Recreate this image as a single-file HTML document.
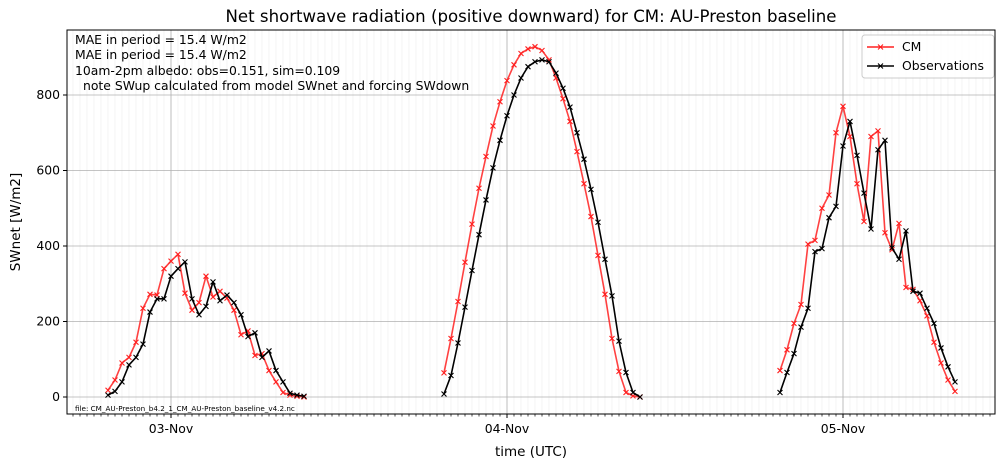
<!DOCTYPE html>
<html><head><meta charset="utf-8"><style>
html,body{margin:0;padding:0;background:#fff;}
svg{display:block;font-family:"DejaVu Sans","Liberation Sans",sans-serif;}
</style></head><body>
<svg id="chart" width="1005" height="468" xmlns="http://www.w3.org/2000/svg">
<text x="531" y="22" text-anchor="middle" font-size="16.6">Net shortwave radiation (positive downward) for CM: AU-Preston baseline</text>
<g id="grid"></g>
<g id="axes"></g>
<g id="series"></g>
<rect x="67" y="30" width="928" height="384" fill="none" stroke="#000" stroke-width="1"/>
<g font-size="12.4">
<text x="75" y="44">MAE in period = 15.4 W/m2</text>
<text x="75" y="59">MAE in period = 15.4 W/m2</text>
<text x="75" y="75">10am-2pm albedo: obs=0.151, sim=0.109</text>
<text x="83" y="90">note SWup calculated from model SWnet and forcing SWdown</text>
</g>
<text x="75" y="411" font-size="7.2">file: CM_AU-Preston_b4.2_1_CM_AU-Preston_baseline_v4.2.nc</text>
<g>
<rect x="862" y="35" width="132" height="43" rx="3" fill="#fff" fill-opacity="0.85" stroke="#ccc"/>
<line x1="867" y1="47" x2="894" y2="47" stroke="#ff2020" stroke-width="1.5"/>
<path d="M878,44.5L883,49.5M878,49.5L883,44.5" stroke="#ff2020" stroke-width="1.1"/>
<text x="902" y="51" font-size="12.4">CM</text>
<line x1="867" y1="66" x2="894" y2="66" stroke="#000" stroke-width="1.5"/>
<path d="M878,63.5L883,68.5M878,68.5L883,63.5" stroke="#000" stroke-width="1.1"/>
<text x="902" y="70" font-size="12.4">Observations</text>
</g>
<text x="531" y="456" text-anchor="middle" font-size="13.5">time (UTC)</text>
<text x="20" y="222" text-anchor="middle" font-size="13.5" transform="rotate(-90 20 222)">SWnet [W/m2]</text>
</svg>
<script>
// start slots (half-hours from 03-Nov 00:00 UTC) of each daytime segment
const segStarts = [-9, 39, 87];
const cmSeg1 = [18,45,90,105,145,235,272,270,340,360,378,275,230,250,320,265,280,262,230,165,175,110,115,70,40,12,5,2,0];
const obsSeg1 = [5,15,40,85,105,140,225,260,260,320,340,358,260,218,240,305,255,270,250,218,160,170,105,122,70,40,10,5,2];
const cmSeg2 = [64,155,253,357,458,553,637,718,782,838,880,910,922,928,918,893,845,790,730,650,565,478,375,272,155,68,12,3,0];
const obsSeg2 = [8,57,143,238,335,430,522,607,680,745,800,845,875,888,893,888,858,818,768,700,630,550,463,365,268,148,65,12,0];
const cmSeg3 = [70,125,195,245,405,415,500,535,700,770,690,565,465,690,705,435,390,460,290,285,255,215,145,90,45,15];
const obsSeg3 = [12,65,115,185,235,385,393,475,505,665,730,640,540,445,655,680,395,365,440,280,275,235,195,130,80,40];
const dayLabels = ["03-Nov","04-Nov","05-Nov"];
const yTicks = [0,200,400,600,800];

const NS="http://www.w3.org/2000/svg";
const L=67,R=995,T=30,B=414;
const xs = s => 171 + s*7;
const ys = v => 397 - v*302/800;
function mk(tag, attrs, parent){const e=document.createElementNS(NS,tag);for(const k in attrs)e.setAttribute(k,attrs[k]);parent.appendChild(e);return e;}
const grid=document.getElementById('grid'), axes=document.getElementById('axes'), ser=document.getElementById('series');
for(let s=-14;s<=117;s++){
  const x=xs(s);
  const g=mk('line',{x1:x,x2:x,y1:T,y2:B,stroke:'#ececec','stroke-width':0.6},grid);
  
  
  const t=mk('line',{x1:x,x2:x,y1:B,y2:B+2.5,stroke:'#000','stroke-width':0.7},axes);
  
  
}
dayLabels.forEach((d,i)=>{
  const x=xs(i*48);
  const g=mk('line',{x1:x,x2:x,y1:T,y2:B,stroke:'#b0b0b0','stroke-width':0.8},grid);
  
  
  mk('line',{x1:x,x2:x,y1:B,y2:B+4,stroke:'#000'},axes);
  const t=mk('text',{x:x,y:B+19,'text-anchor':'middle','font-size':12.4},axes);
  t.textContent=d;
  
  
});
yTicks.forEach(v=>{
  const y=ys(v);
  const g=mk('line',{x1:L,x2:R,y1:y,y2:y,stroke:'#b0b0b0','stroke-width':0.8},grid);
  
  
  mk('line',{x1:L-4,x2:L,y1:y,y2:y,stroke:'#000'},axes);
  const t=mk('text',{x:L-7,y:y+4,'text-anchor':'end','font-size':12.4},axes);
  t.textContent=v;
  
  
});
function drawSeries(segs,color,name){
  segs.forEach((vals,si)=>{
    const pts=vals.map((v,i)=>[xs(segStarts[si]+i),ys(v)]);
    const p=mk('polyline',{points:pts.map(p=>p.join(',')).join(' '),fill:'none',stroke:color,'stroke-width':1.6,'stroke-linejoin':'round','stroke-opacity':name==='cm'?0.85:1},ser);
    
    
    pts.forEach(([x,y])=>{
      const m=mk('path',{d:`M${x-2.5},${y-2.5}L${x+2.5},${y+2.5}M${x-2.5},${y+2.5}L${x+2.5},${y-2.5}`,stroke:color,'stroke-width':1.1},ser);
      
      
    });
  });
}
drawSeries([cmSeg1,cmSeg2,cmSeg3],'#ff2020','cm');
drawSeries([obsSeg1,obsSeg2,obsSeg3],'#000000','observations');
</script>
</body></html>
